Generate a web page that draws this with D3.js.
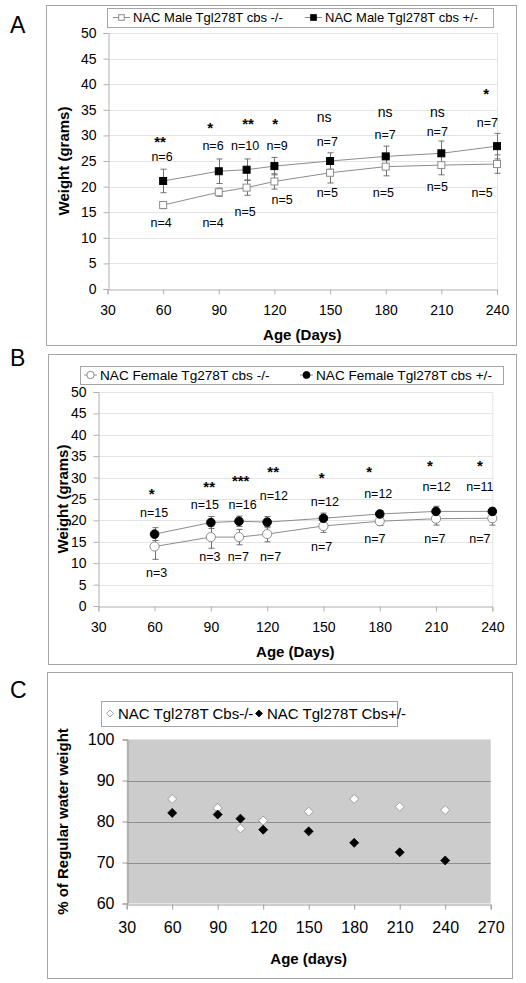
<!DOCTYPE html>
<html><head><meta charset="utf-8">
<script src="https://cdn.jsdelivr.net/npm/d3@7"></script>
<style>
html,body{margin:0;padding:0;background:#fff;}
svg{display:block;font-family:"Liberation Sans",Arial,sans-serif;}
</style></head>
<body>
<svg id="chart" width="526" height="983"></svg>
<script>
// ---------------- DATA ----------------
const ages = [60, 90, 105, 120, 150, 180, 210, 240];
const weightTicks = [0, 5, 10, 15, 20, 25, 30, 35, 40, 45, 50];
const ageTicksAB = [30, 60, 90, 120, 150, 180, 210, 240];
const ageTicksC = [30, 60, 90, 120, 150, 180, 210, 240, 270];
const pctTicks = [60, 70, 80, 90, 100];

// Panel A (males)
const maleKO = [16.4, 18.9, 19.8, 21.0, 22.7, 23.9, 24.2, 24.4];
const maleKOsd = [0.7, 0.8, 1.5, 1.5, 2.0, 1.8, 1.9, 1.8];
const maleHet = [21.1, 23.0, 23.3, 24.0, 25.0, 25.9, 26.5, 27.9];
const maleHetsd = [2.3, 2.4, 2.1, 1.7, 1.6, 2.0, 2.4, 2.5];
const maleStars = ["**", "*", "**", "*", "ns", "ns", "ns", "*"];
const maleStarAge = [58.3, 85.3, 105.8, 120.4, 146.8, 179.7, 207.8, 234.2];
const maleStarY = [28.9, 31.6, 32.4, 32.4, 33.6, 34.6, 34.6, 38.1];
const maleNHet = ["n=6", "n=6", "n=10", "n=9", "n=7", "n=7", "n=7", "n=7"];
const maleNHetAge = [59.4, 86.9, 104.2, 121.5, 148.5, 179.7, 207.8, 234.8];
const maleNHetY = [25.8, 27.9, 27.9, 27.9, 28.7, 30.1, 30.7, 32.4];
const maleNKO = ["n=4", "n=4", "n=5", "n=5", "n=5", "n=5", "n=5", "n=5"];
const maleNKOAge = [58.9, 86.9, 104.2, 124.2, 148.5, 178.7, 207.8, 232.0];
const maleNKOY = [12.9, 12.9, 15.0, 17.4, 18.75, 18.75, 19.9, 18.75];
const legendA = ["NAC Male Tgl278T cbs -/-", "NAC Male Tgl278T cbs +/-"];

// Panel B (females)
const femKO = [13.9, 16.1, 16.1, 16.8, 18.7, 19.8, 20.4, 20.5];
const femKOsd = [3.0, 2.6, 1.8, 1.8, 1.5, 1.0, 1.5, 1.6];
const femHet = [16.8, 19.5, 19.8, 19.6, 20.5, 21.5, 22.1, 22.1];
const femHetsd = [1.5, 1.4, 1.2, 1.3, 1.2, 0.8, 1.2, 0.8];
const femStars = ["*", "**", "***", "**", "*", "*", "*", "*"];
const femStarAge = [58.5, 89.1, 105.9, 123.2, 149.0, 174.4, 206.7, 233.4];
const femStarY = [26.2, 27.9, 29.3, 31.4, 30.0, 31.4, 32.8, 32.8];
const femNHet = ["n=15", "n=15", "n=16", "n=12", "n=12", "n=12", "n=12", "n=11"];
const femNHetAge = [59.7, 86.8, 106.9, 123.6, 150.8, 179.2, 210.3, 233.4];
const femNHetY = [21.8, 23.6, 23.6, 25.7, 24.4, 26.2, 27.9, 27.9];
const femNKO = ["n=3", "n=3", "n=7", "n=7", "n=7", "n=7", "n=7", "n=7"];
const femNKOAge = [61.1, 89.5, 104.6, 121.8, 149.0, 177.4, 209.4, 233.4];
const femNKOY = [7.6, 11.5, 11.5, 11.5, 13.7, 15.7, 15.7, 15.7];
const legendB = ["NAC Female Tg278T cbs -/-", "NAC Female Tgl278T cbs +/-"];

// Panel C (% of regular water weight)
const pctKO = [85.5, 83.3, 78.3, 80.2, 82.4, 85.5, 83.6, 82.8];
const pctHet = [82.1, 81.7, 80.7, 78.0, 77.6, 74.8, 72.5, 70.5];
const legendC = ["NAC Tgl278T Cbs-/-", "NAC Tgl278T Cbs+/-"];

// ---------------- DRAW ----------------
const svg = d3.select("#chart");
const FONT = '"Liberation Sans",Arial,sans-serif';
const panelStroke = "#a6a6a6";

function panelLabel(t, x, y) {
  svg.append("text").attr("x", x).attr("y", y).attr("font-size", 23)
    .attr("dominant-baseline", "central").attr("fill", "#000").text(t);
}

function box(x0, y0, x1, y1) {
  svg.append("rect").attr("x", x0 + 0.5).attr("y", y0 + 0.5)
    .attr("width", x1 - x0).attr("height", y1 - y0)
    .attr("fill", "#fff").attr("stroke", panelStroke).attr("stroke-width", 1);
}

function weightPanel(cfg) {
  const g = svg.append("g");
  const x = d3.scaleLinear().domain([30, 240]).range([cfg.left, cfg.right]);
  const y = d3.scaleLinear().domain([0, 50]).range([cfg.bottom, cfg.top]);

  g.append("g").selectAll("line").data(weightTicks.filter(d => d > 0)).join("line")
    .attr("x1", cfg.left).attr("x2", cfg.right)
    .attr("y1", d => Math.round(y(d)) + 0.5).attr("y2", d => Math.round(y(d)) + 0.5)
    .attr("stroke", "#e4e4e4").attr("stroke-width", 1);
  g.append("line").attr("x1", cfg.right + 0.5).attr("x2", cfg.right + 0.5)
    .attr("y1", cfg.top).attr("y2", cfg.bottom).attr("stroke", "#e4e4e4");

  const yAxis = d3.axisLeft(y).tickValues(weightTicks).tickSize(5).tickPadding(7);
  const ya = g.append("g").attr("transform", `translate(${Math.round(cfg.left) + 0.5},0)`).call(yAxis);
  const xAxis = d3.axisBottom(x).tickValues(ageTicksAB).tickSize(5).tickPadding(11);
  const xa = g.append("g").attr("transform", `translate(0,${Math.round(cfg.bottom) + 0.5})`).call(xAxis);
  [ya, xa].forEach(a => {
    a.select(".domain").attr("stroke", "#b0b0b0");
    a.selectAll(".tick line").attr("stroke", "#b0b0b0");
    a.selectAll("text").attr("font-size", 14).attr("font-family", FONT).attr("fill", "#000");
  });

  g.append("text").attr("x", (cfg.left + cfg.right) / 2).attr("y", cfg.bottom + 45)
    .attr("text-anchor", "middle").attr("dominant-baseline", "central")
    .attr("font-size", 15).attr("font-weight", "bold").text("Age (Days)");
  g.append("text").attr("transform", `translate(${cfg.ytitleX},${(cfg.top + cfg.bottom) / 2}) rotate(-90)`)
    .attr("text-anchor", "middle").attr("dominant-baseline", "central")
    .attr("font-size", 15).attr("font-weight", "bold").text("Weight (grams)");

  const line = d3.line().x(d => x(d[0])).y(d => y(d[1]));
  const seriesDefs = [
    { vals: cfg.ko, sd: cfg.kosd, open: true },
    { vals: cfg.het, sd: cfg.hetsd, open: false }
  ];
  seriesDefs.forEach(s => {
    g.append("path").datum(ages.map((a, i) => [a, s.vals[i]]))
      .attr("d", line).attr("fill", "none").attr("stroke", "#8c8c8c").attr("stroke-width", 1);
  });
  seriesDefs.forEach(s => {
    const eb = g.append("g").attr("stroke", "#707070").attr("stroke-width", 1);
    ages.forEach((a, i) => {
      const cx = Math.round(x(a)) + 0.5;
      const y0 = y(s.vals[i] - s.sd[i]), y1 = y(s.vals[i] + s.sd[i]);
      eb.append("line").attr("x1", cx).attr("x2", cx).attr("y1", y0).attr("y2", y1);
      eb.append("line").attr("x1", cx - 3).attr("x2", cx + 3).attr("y1", y0).attr("y2", y0);
      eb.append("line").attr("x1", cx - 3).attr("x2", cx + 3).attr("y1", y1).attr("y2", y1);
    });
  });
  seriesDefs.forEach(s => {
    const mg = g.append("g");
    ages.forEach((a, i) => cfg.marker(mg, x(a), y(s.vals[i]), s.open));
  });

  const ann = (labels, ax, ay, size) => {
    g.append("g").selectAll("text").data(labels).join("text")
      .attr("x", (d, i) => x(ax[i])).attr("y", (d, i) => y(ay[i]))
      .attr("text-anchor", "middle").attr("dominant-baseline", "central")
      .attr("font-size", d => d.includes("*") ? size + 1 : size)
      .attr("font-weight", d => d.includes("*") ? "bold" : "normal")
      .attr("fill", "#000").text(d => d);
  };
  ann(cfg.stars, cfg.starAge, cfg.starY, 14);
  ann(cfg.nHet, cfg.nHetAge, cfg.nHetY, 12.5);
  ann(cfg.nKO, cfg.nKOAge, cfg.nKOY, 12.5);

  const L = cfg.legend;
  g.append("rect").attr("x", L.x0 + 0.5).attr("y", L.y0 + 0.5).attr("width", L.x1 - L.x0)
    .attr("height", L.y1 - L.y0).attr("fill", "#fff").attr("stroke", "#a6a6a6");
  const ly = (L.y0 + L.y1) / 2;
  cfg.legendText.forEach((t, i) => {
    const sx = L.items[i];
    g.append("line").attr("x1", sx).attr("x2", sx + L.sampleW).attr("y1", ly).attr("y2", ly)
      .attr("stroke", "#8c8c8c");
    cfg.marker(g, sx + L.sampleW / 2, ly, i === 0, 0.8);
    g.append("text").attr("x", sx + L.sampleW + 3).attr("y", ly).attr("dominant-baseline", "central")
      .attr("font-size", L.fs).attr("fill", "#000").text(t);
  });
}

function squareMarker(g, cx, cy, open, k = 1) {
  const s = 7 * k;
  g.append("rect").attr("x", cx - s / 2).attr("y", cy - s / 2).attr("width", s).attr("height", s)
    .attr("fill", open ? "#fff" : "#000").attr("stroke", open ? "#8c8c8c" : "#000").attr("stroke-width", 1);
}
function circleMarker(g, cx, cy, open, k = 1) {
  g.append("circle").attr("cx", cx).attr("cy", cy).attr("r", (open ? 4.6 : 4.3) * k)
    .attr("fill", open ? "#fff" : "#000").attr("stroke", open ? "#8c8c8c" : "#000").attr("stroke-width", 1);
}

// Panel A
box(46, 5, 516, 345);
panelLabel("A", 10, 25);
weightPanel({
  left: 107.5, right: 497, top: 33, bottom: 289, ytitleX: 63,
  ko: maleKO, kosd: maleKOsd, het: maleHet, hetsd: maleHetsd,
  stars: maleStars, starAge: maleStarAge, starY: maleStarY,
  nHet: maleNHet, nHetAge: maleNHetAge, nHetY: maleNHetY,
  nKO: maleNKO, nKOAge: maleNKOAge, nKOY: maleNKOY,
  marker: squareMarker,
  legend: { x0: 107, y0: 8, x1: 493, y1: 27, items: [113, 305], sampleW: 17, fs: 13 },
  legendText: legendA
});

// Panel B
box(48, 354, 516, 664);
panelLabel("B", 10, 358);
weightPanel({
  left: 98.3, right: 492.3, top: 392, bottom: 606, ytitleX: 62,
  ko: femKO, kosd: femKOsd, het: femHet, hetsd: femHetsd,
  stars: femStars, starAge: femStarAge, starY: femStarY,
  nHet: femNHet, nHetAge: femNHetAge, nHetY: femNHetY,
  nKO: femNKO, nKOAge: femNKOAge, nKOY: femNKOY,
  marker: circleMarker,
  legend: { x0: 80, y0: 366, x1: 503, y1: 384, items: [84, 300], sampleW: 13, fs: 13.6 },
  legendText: legendB
});

// Panel C
box(47, 672, 512, 978);
panelLabel("C", 10, 690);
(function () {
  const left = 126.7, right = 490.7, top = 739.5, bottom = 903.5;
  const g = svg.append("g");
  const x = d3.scaleLinear().domain([30, 270]).range([left, right]);
  const y = d3.scaleLinear().domain([60, 100]).range([bottom, top]);
  g.append("rect").attr("x", left).attr("y", top).attr("width", right - left).attr("height", bottom - top)
    .attr("fill", "#cccccc");
  g.append("g").selectAll("line").data(pctTicks.filter(d => d > 60 && d < 100)).join("line")
    .attr("x1", left).attr("x2", right)
    .attr("y1", d => Math.round(y(d)) + 0.5).attr("y2", d => Math.round(y(d)) + 0.5)
    .attr("stroke", "#8e8e8e");
  const ya = g.append("g").attr("transform", `translate(${Math.round(left) + 0.5},0)`)
    .call(d3.axisLeft(y).tickValues(pctTicks).tickSize(5).tickPadding(8));
  const xa = g.append("g").attr("transform", `translate(0,${Math.round(bottom) + 0.5})`)
    .call(d3.axisBottom(x).tickValues(ageTicksC).tickSize(5).tickPadding(12));
  [ya, xa].forEach(a => {
    a.select(".domain").attr("stroke", "#9a9a9a");
    a.selectAll(".tick line").attr("stroke", "#9a9a9a");
    a.selectAll("text").attr("font-size", 16).attr("font-family", FONT).attr("fill", "#000");
  });
  g.append("text").attr("x", (left + right) / 2).attr("y", 958)
    .attr("text-anchor", "middle").attr("dominant-baseline", "central")
    .attr("font-size", 15).attr("font-weight", "bold").text("Age (days)");
  g.append("text").attr("transform", `translate(62,${(top + bottom) / 2}) rotate(-90)`)
    .attr("text-anchor", "middle").attr("dominant-baseline", "central")
    .attr("font-size", 15).attr("font-weight", "bold").text("% of Regular water weight");

  const diamond = (cx, cy, open, s) => {
    g.append("path").attr("d", `M${cx},${cy - s}L${cx + s},${cy}L${cx},${cy + s}L${cx - s},${cy}Z`)
      .attr("fill", open ? "#fff" : "#000").attr("stroke", open ? "#8c8c8c" : "#000").attr("stroke-width", 0.8);
  };
  ages.forEach((a, i) => diamond(x(a), y(pctKO[i]), true, 4.5));
  ages.forEach((a, i) => diamond(x(a), y(pctHet[i]), false, 4.5));

  const lx0 = 101, ly0 = 701, lx1 = 397, ly1 = 726;
  g.append("rect").attr("x", lx0 + 0.5).attr("y", ly0 + 0.5).attr("width", lx1 - lx0).attr("height", ly1 - ly0)
    .attr("fill", "#fff").attr("stroke", "#a6a6a6");
  const ly = (ly0 + ly1) / 2;
  const itemsX = [110, 259];
  legendC.forEach((t, i) => {
    diamond(itemsX[i], ly, i === 0, 3.5);
    g.append("text").attr("x", itemsX[i] + 8).attr("y", ly).attr("dominant-baseline", "central")
      .attr("font-size", 15).attr("fill", "#000").text(t);
  });
})();
</script>
</body></html>
